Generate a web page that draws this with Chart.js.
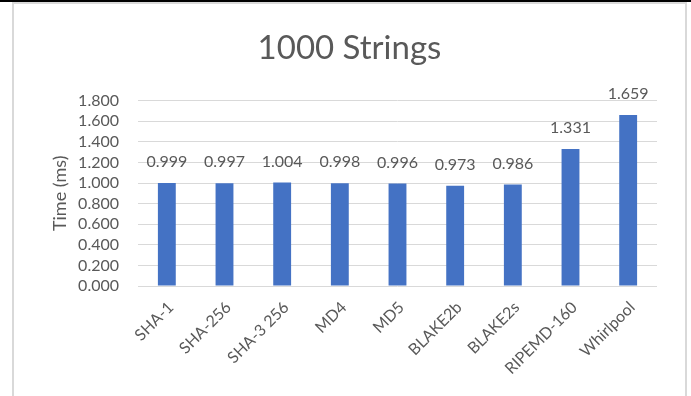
<!DOCTYPE html>
<html>
<head>
<meta charset="utf-8">
<title>1000 Strings</title>
<script src="https://cdn.jsdelivr.net/npm/chart.js@4.4.1/dist/chart.umd.min.js"></script>
<style>
    body { margin: 0; background: #fff; width: 691px; height: 396px; overflow: hidden; position: relative; }
    #topLine { position: absolute; left: 0; top: 0; width: 691px; height: 2px; background: #000; }
    #frame { position: absolute; left: 12px; top: 2px; width: 671px; height: 400px; border: 2px solid #d9d9d9; border-bottom: none; }
    #barChartHash { position: absolute; left: 14px; top: 4px; }
</style>
</head>
<body>
<div id="topLine"></div>
<div id="frame"></div>
<canvas id="barChartHash" width="671" height="392"></canvas>
<script>
const categories = ['SHA-1', 'SHA-256', 'SHA-3 256', 'MD4', 'MD5', 'BLAKE2b', 'BLAKE2s', 'RIPEMD-160', 'Whirlpool'];
const timesMs = [0.999, 0.997, 1.004, 0.998, 0.996, 0.973, 0.986, 1.331, 1.659];
const yTickValues = [0.0, 0.2, 0.4, 0.6, 0.8, 1.0, 1.2, 1.4, 1.6, 1.8];

const textColor = '#595959';
const fontFamily = 'Lato, "Open Sans", sans-serif';

// Value written above each bar
const barValueLabels = {
    id: 'barValueLabels',
    afterDatasetsDraw(chart) {
        const ctx = chart.ctx;
        const meta = chart.getDatasetMeta(0);
        ctx.save();
        ctx.font = '16px ' + fontFamily;
        ctx.fillStyle = textColor;
        ctx.textAlign = 'center';
        ctx.textBaseline = 'middle';
        meta.data.forEach((bar, i) => {
            ctx.fillText(timesMs[i].toFixed(3), bar.x, bar.y - 21);
        });
        ctx.restore();
    }
};

function renderChart() {
    const ctx = document.getElementById('barChartHash').getContext('2d');

    new Chart(ctx, {
        type: 'bar',
        data: {
            labels: categories,
            datasets: [{
                label: 'Time (ms)',
                data: timesMs,
                backgroundColor: '#4472c4',
                borderWidth: 0,
                categoryPercentage: 1.0,
                barPercentage: 0.31
            }]
        },
        options: {
            responsive: false,
            animation: false,
            layout: { padding: 0 },
            plugins: {
                legend: { display: false },
                tooltip: { enabled: false },
                title: {
                    display: true,
                    text: '1000 Strings',
                    color: textColor,
                    font: { family: fontFamily, size: 33, weight: 'normal' },
                    padding: { top: 25, bottom: 32 }
                }
            },
            scales: {
                x: {
                    grid: { display: false },
                    border: { display: false },
                    ticks: {
                        color: textColor,
                        font: { family: fontFamily, size: 16 },
                        minRotation: 45,
                        maxRotation: 45,
                        autoSkip: false,
                        labelOffset: 4,
                        padding: 4
                    },
                    afterFit: (scale) => { scale.height = 110; }
                },
                y: {
                    min: 0,
                    max: 1.8,
                    afterBuildTicks: (scale) => {
                        scale.ticks = yTickValues.map(v => ({ value: v }));
                    },
                    grid: { color: '#d9d9d9', lineWidth: 1, drawTicks: false },
                    border: { display: false },
                    ticks: {
                        color: textColor,
                        font: { family: fontFamily, size: 16 },
                        padding: 19,
                        autoSkip: false,
                        callback: (v) => Number(v).toFixed(3)
                    },
                    title: {
                        display: true,
                        text: 'Time (ms)',
                        color: textColor,
                        font: { family: fontFamily, size: 18 },
                        padding: { top: 35, bottom: 0 }
                    },
                    afterFit: (scale) => { scale.width = 124; }
                },
                // empty strip on the right so the title stays centred on the whole chart
                yRight: {
                    position: 'right',
                    grid: { display: false },
                    border: { display: false },
                    ticks: { display: false },
                    afterFit: (scale) => { scale.width = 28; }
                }
            }
        },
        plugins: [barValueLabels]
    });
}

window.addEventListener('DOMContentLoaded', renderChart);
</script>
</body>
</html>
